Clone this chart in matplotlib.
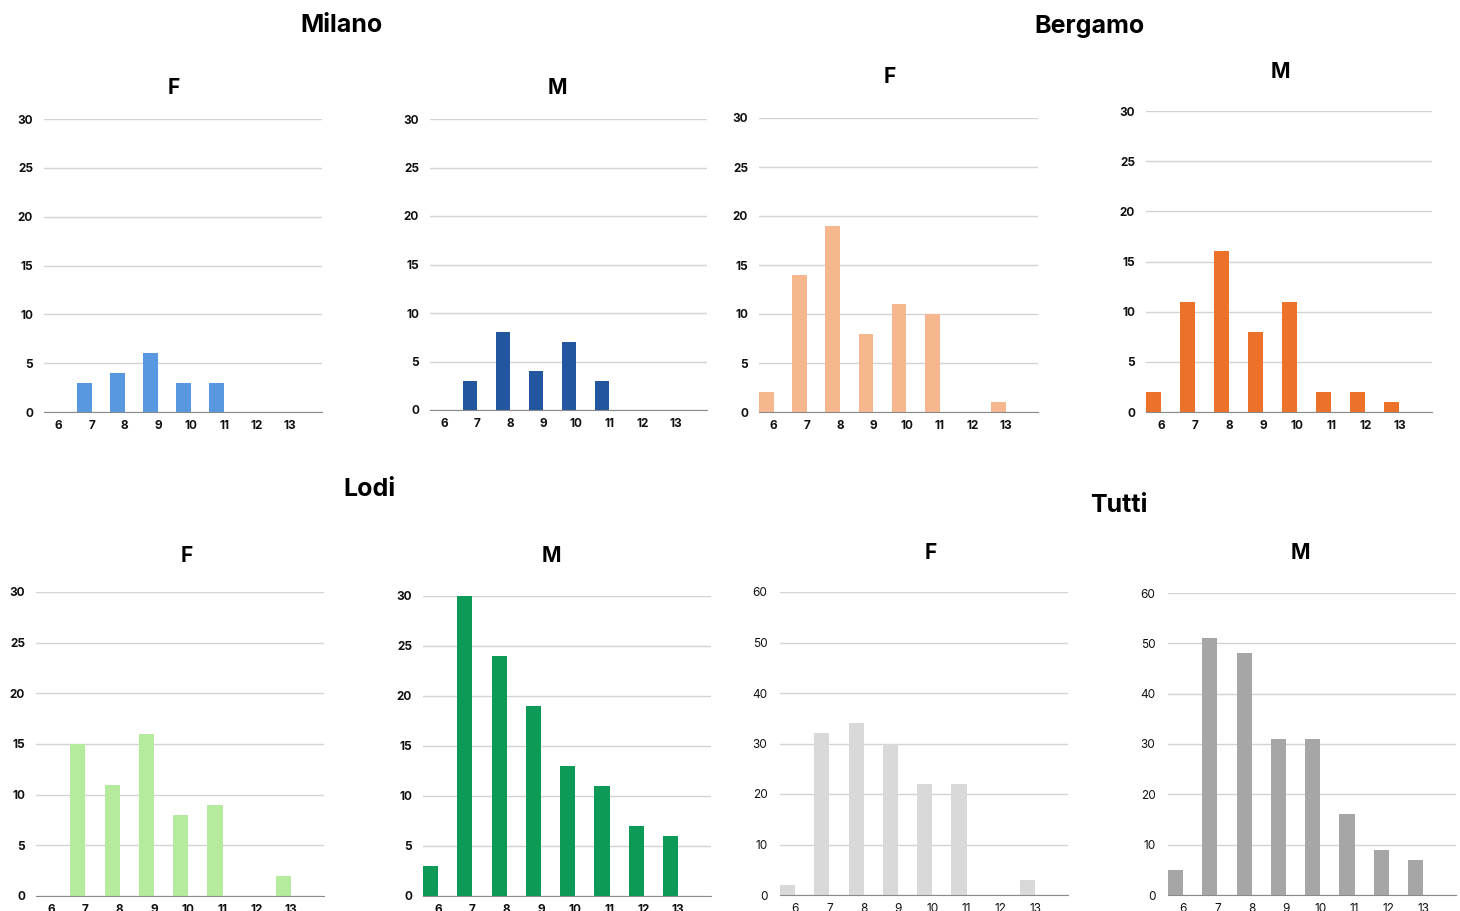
import matplotlib
matplotlib.use("Agg")
import matplotlib.pyplot as plt
import numpy as np

plt.rcParams["font.family"] = ["Inter", "DejaVu Sans"]

ages = ["6", "7", "8", "9", "10", "11", "12", "13"]

milano_f = [0, 3, 4, 6, 3, 3, 0, 0]
milano_m = [0, 3, 8, 4, 7, 3, 0, 0]
bergamo_f = [2, 14, 19, 8, 11, 10, 0, 1]
bergamo_m = [2, 11, 16, 8, 11, 2, 2, 1]
lodi_f = [0, 15, 11, 16, 8, 9, 0, 2]
lodi_m = [3, 37, 24, 19, 13, 11, 7, 6]
tutti_f = [a + b + c for a, b, c in zip(milano_f, bergamo_f, lodi_f)]
tutti_m = [a + b + c for a, b, c in zip(milano_m, bergamo_m, lodi_m)]

W, H = 1460, 911
fig = plt.figure(figsize=(W / 100, H / 100), dpi=100)

# (values, colour, ymax, bold ticks, pixel box: left, right, top, bottom, title x, title y)
panels = [
    (milano_f, "#5898E1", 30, True, (44, 322, 119, 412), (174, 88)),
    (milano_m, "#22569E", 30, True, (430, 707, 119, 410), (557, 88)),
    (bergamo_f, "#F6B78E", 30, True, (759, 1038, 118, 412), (890, 77)),
    (bergamo_m, "#EC7129", 30, True, (1146, 1432, 111, 412), (1280, 72)),
    (lodi_f, "#B5EB9C", 30, True, (36, 324, 592, 896), (187, 556)),
    (lodi_m, "#0D9A57", 30, True, (423, 711, 596, 896), (551, 556)),
    (tutti_f, "#D9D9D9", 60, False, (780, 1068, 592, 895), (931, 553)),
    (tutti_m, "#A6A6A6", 60, False, (1168, 1456, 593, 895), (1300, 553)),
]

width = 0.44
for vals, color, ymax, bold, box, tpos in panels:
    l, r, t, b = box
    ax = fig.add_axes([l / W, 1 - b / H, (r - l) / W, (b - t) / H])
    x = np.arange(len(ages))
    ax.bar(x, vals, width=width, align="edge", color=color, zorder=3)
    ax.set_xlim(0, 8.4)
    ax.set_ylim(0, ymax)
    ax.set_yticks(range(0, ymax + 1, ymax // 6))
    ax.set_xticks(x + width)
    ax.set_xticklabels(ages)
    ax.grid(axis="y", color="#d3d3d3", linewidth=1, zorder=0)
    for s in ["top", "right", "left"]:
        ax.spines[s].set_visible(False)
    ax.spines["bottom"].set_color("#8a8a8a")
    ax.spines["bottom"].set_zorder(4)
    weight = "bold" if bold else "normal"
    ax.tick_params(length=0, labelsize=8.5, colors="#111111", pad=6)
    ax.tick_params(axis="y", pad=8 if bold else 9)
    for lab in ax.get_xticklabels() + ax.get_yticklabels():
        lab.set_fontweight(weight)
    fig.text(tpos[0] / W, 1 - tpos[1] / H, "F" if vals in (milano_f, bergamo_f, lodi_f, tutti_f) else "M",
             ha="center", va="center", fontsize=15, fontweight="bold")

# group headings
for name, gx, gy in [("Milano", 342, 25), ("Bergamo", 1090, 26), ("Lodi", 369, 490), ("Tutti", 1119, 505)]:
    fig.text(gx / W, 1 - gy / H, name, ha="center", va="center", fontsize=18, fontweight="bold")

fig.savefig("out.png", dpi=100, facecolor="white")
